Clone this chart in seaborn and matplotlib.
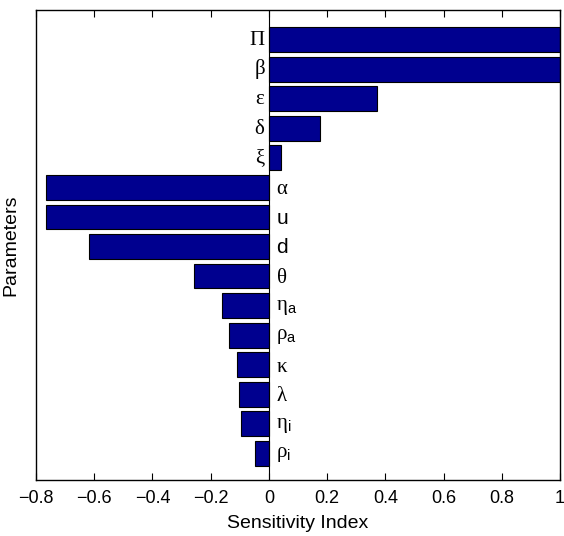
import matplotlib
matplotlib.use("Agg")
import matplotlib.pyplot as plt
import seaborn as sns
import pandas as pd

params = ["Π", "β", "ε", "δ", "ξ", "α", "u", "d", "θ", "ηa", "ρa", "κ", "λ", "ηi", "ρi"]
labels = [r"$\mathrm{Π}$", r"$\mathrm{β}$", r"$\mathrm{ε}$", r"$\mathrm{δ}$", r"$\mathrm{ξ}$",
          r"$\mathrm{α}$", r"$\mathsf{u}$", r"$\mathsf{d}$", r"$\mathrm{θ}$",
          r"$\mathrm{η}_{\mathsf{a}}$", r"$\mathrm{ρ}_{\mathsf{a}}$", r"$\mathrm{κ}$", r"$\mathrm{λ}$",
          r"$\mathrm{η}_{\mathsf{i}}$", r"$\mathrm{ρ}_{\mathsf{i}}$"]
values = [1.0, 1.0, 0.371, 0.174, 0.041, -0.764, -0.764, -0.619, -0.257,
          -0.161, -0.136, -0.111, -0.104, -0.097, -0.048]
xticks = [-0.8, -0.6, -0.4, -0.2, 0, 0.2, 0.4, 0.6, 0.8, 1]
xticklabels = ["\u22120.8", "\u22120.6", "\u22120.4", "\u22120.2", "0", "0.2", "0.4", "0.6", "0.8", "1"]

sns.set_theme(style="white")
plt.rcParams["font.family"] = ["Liberation Sans", "DejaVu Sans"]
plt.rcParams["mathtext.fontset"] = "custom"
plt.rcParams["mathtext.rm"] = "Liberation Serif"
plt.rcParams["mathtext.sf"] = "Liberation Sans"
plt.rcParams["mathtext.it"] = "Liberation Serif:italic"
plt.rcParams["text.color"] = "black"
plt.rcParams["axes.labelcolor"] = "black"

df = pd.DataFrame({"param": params, "value": values})

fig = plt.figure(figsize=(5.64, 5.36), dpi=100)
ax = fig.add_axes([36/564, 1 - 480/536, (560-36)/564, (480-10)/536])
sns.barplot(data=df, x="value", y="param", orient="h", color="#00008F",
            saturation=1, width=0.84, edgecolor="black", linewidth=0.8, ax=ax)
ax.axvline(0, color="black", lw=0.8, zorder=3)

for i, (lab, v) in enumerate(zip(labels, values)):
    if v >= 0:
        ax.text(-0.012, i, lab, ha="right", va="center", fontsize=15, color="black")
    else:
        ax.text(0.025, i + 0.05, lab, ha="left", va="center", fontsize=15, color="black")

ax.set_xlim(-0.8, 1)
ax.set_ylim(14.9, -1)
ax.set_xticks(xticks)
ax.set_xticklabels(xticklabels, fontsize=13)
ax.set_yticks([])
ax.tick_params(axis="x", direction="in", length=5, top=True, bottom=True, width=0.8,
               colors="black", labelcolor="black", pad=7)
for s in ax.spines.values():
    s.set_color("black")
    s.set_linewidth(1.0)
ax.set_xlabel("Sensitivity Index", fontsize=14, labelpad=6, color="black")
ax.set_ylabel("Parameters", fontsize=14, labelpad=12, color="black")
fig.savefig("out.png", dpi=100)
